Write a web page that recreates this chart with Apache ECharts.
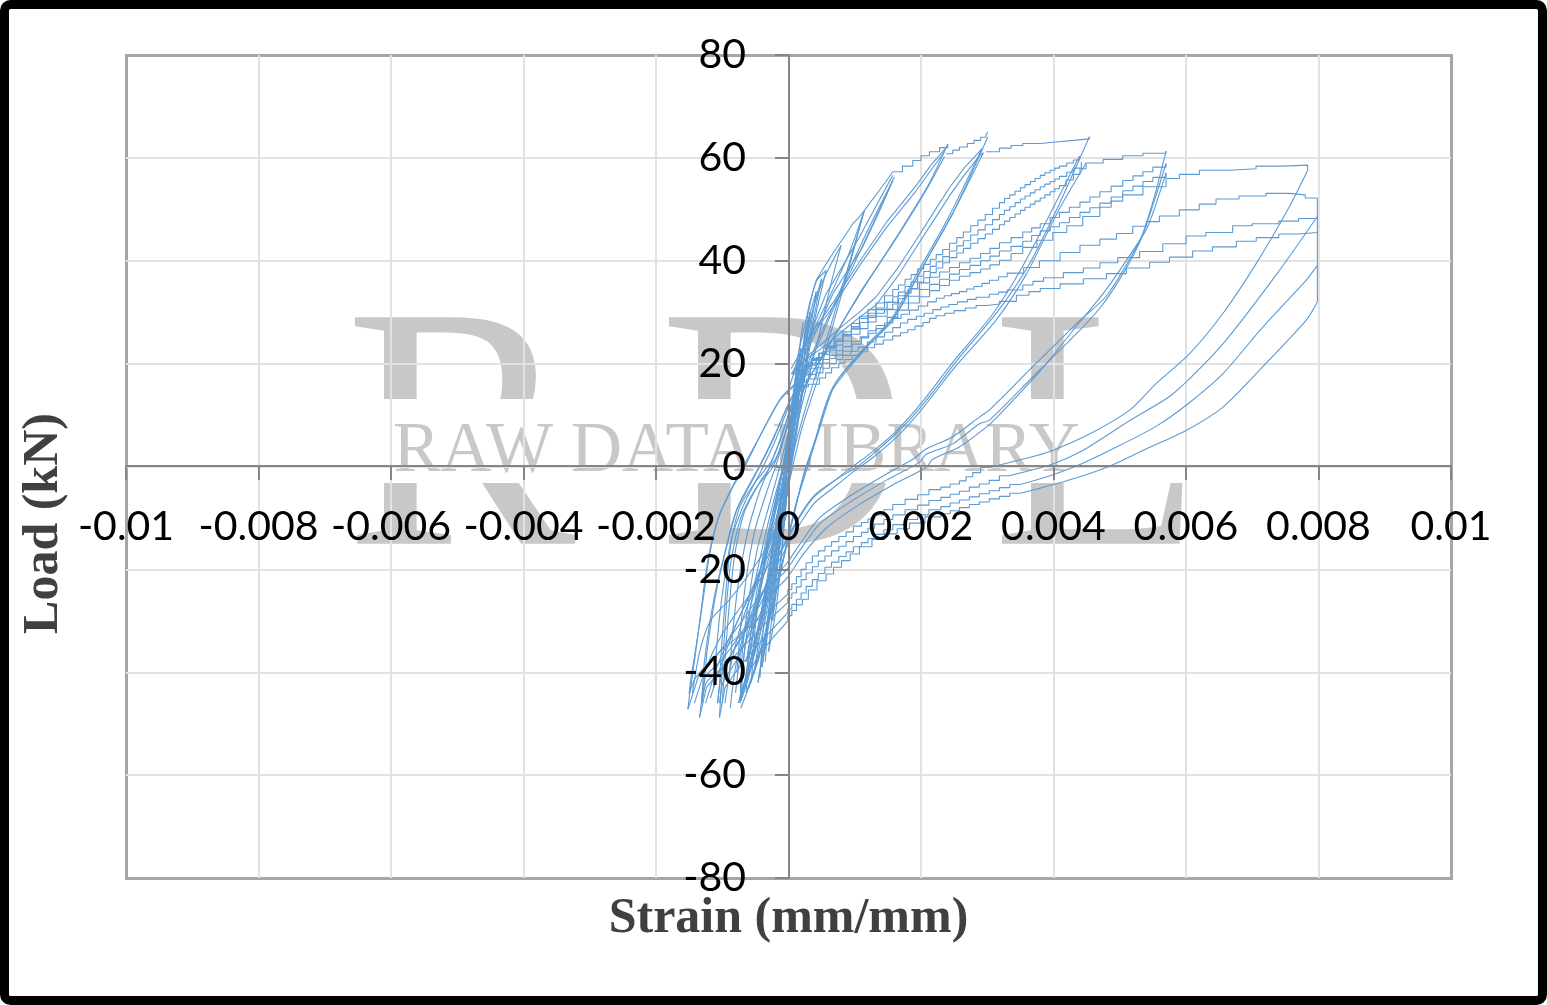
<!DOCTYPE html>
<html><head><meta charset="utf-8">
<style>html,body{margin:0;padding:0;background:#fff}#c{width:1547px;height:1005px}</style>
<script src="https://cdn.jsdelivr.net/npm/echarts@6/dist/echarts.min.js"></script>
</head><body><div id="c"></div>
<script>
// all pairs: [microstrain, load kN]
// stepped reloading branches reaching 0.008
const b8d=[[65,14.8],[170,15.5],[300,16],[467,17.2],[560,18.2],[650,19.2],[760,20.1],[850,20.8],[960,21.6],[1071,22.3],[1190,23.1],[1300,23.8],[1430,24.6],[1574,25.4],[1690,26],[1800,26.6],[1910,27.3],[2030,28],[2130,28.8],[2228,29.3],[2360,29.8],[2500,30.3],[2670,30.8],[2832,31.3],[3000,31.6],[3184,32.1],[3440,33.3],[3630,34],[3800,34.6],[4100,35.5],[4450,36.5],[4800,37.5],[5100,38.6],[5450,39.7],[5750,40.7],[6100,41.9],[6400,42.7],[6760,43.8],[7060,44.5],[7400,45.2],[7700,45.5],[7983,45.7]];
const b8c=[[120,15.8],[270,17],[417,18.2],[520,19.1],[620,20],[720,20.8],[820,21.6],[940,22.4],[1050,23.2],[1190,24.2],[1323,25.2],[1450,26.1],[1574,27],[1690,27.9],[1800,28.6],[1930,29.2],[2050,29.8],[2180,30.5],[2300,31],[2420,31.5],[2550,32],[2700,32.5],[2832,32.9],[3033,33.5],[3170,33.9],[3300,34.3],[3536,35.3],[3690,36],[3850,36.7],[4150,37.7],[4450,38.6],[4700,39.6],[4970,40.6],[5300,41.8],[5650,43.3],[6001,44.8],[6300,45.5],[6705,46.8],[7000,47.2],[7400,47.7],[7700,48.2],[7983,48.6]];
const b8b=[[180,16.5],[300,17.9],[417,19.2],[520,20.1],[620,21],[720,21.7],[820,22.4],[960,23.8],[1100,25],[1210,25.9],[1323,26.8],[1450,27.9],[1574,28.8],[1700,29.6],[1826,30.4],[1960,31.2],[2100,32],[2230,32.7],[2350,33.2],[2460,33.6],[2580,34],[2690,34.5],[2800,35],[2920,35.6],[3033,36.2],[3170,36.9],[3300,37.6],[3550,38.7],[3788,40],[4100,41.6],[4400,43],[4700,44.2],[4950,45.3],[5196,46.7],[5400,47.6],[5598,48.7],[5900,49.9],[6200,51],[6453,52],[6800,52.6],[7208,53.1],[7560,52.8],[7800,52.2],[7983,52.2]];
const b8a=[[240,18],[330,19.1],[417,20],[520,20.8],[620,21.6],[720,22.5],[820,23.3],[950,24.3],[1080,25.2],[1200,26.4],[1323,27.4],[1490,29],[1650,30.4],[1810,31.8],[1976,33],[2130,34.2],[2280,35.2],[2430,36.2],[2580,37],[2740,37.7],[2900,38.4],[3040,39.2],[3184,40.1],[3360,41.4],[3536,42.6],[3750,44],[3989,45.5],[4200,46.8],[4441,48.6],[4700,50.4],[4870,51.6],[5045,52.8],[5350,54.4],[5699,56],[5900,56.8],[6202,57.6],[6655,57.9],[7057,58.4],[7460,58.6],[7837,57.6]];
// stepped reloading branches reaching 0.0058
const b58b=[[200,18.4],[310,19.7],[417,20.8],[520,21.8],[620,22.6],[720,23.6],[820,24.4],[950,25.7],[1080,26.8],[1200,28.1],[1323,29.2],[1490,30.5],[1650,31.8],[1810,33.1],[1976,34.4],[2130,35.4],[2280,36.4],[2430,37.4],[2580,38.3],[2740,39.1],[2900,40],[3040,40.9],[3184,41.9],[3360,42.8],[3536,43.8],[3670,44.9],[3800,45.8],[3950,46.6],[4089,47.4],[4240,48.4],[4400,49.4],[4550,50.3],[4700,51.2],[4870,52.4],[5045,53.6],[5200,54.5],[5350,55.4],[5500,56.2],[5699,57.1]];
const b58a=[[160,18.8],[290,20.1],[417,21.2],[520,22.3],[620,23.2],[720,24.4],[820,25.4],[950,26.7],[1080,28],[1200,29.3],[1323,30.5],[1490,31.9],[1650,33.2],[1810,34.5],[1976,35.7],[2130,36.8],[2280,37.8],[2430,38.7],[2580,39.6],[2740,40.5],[2900,41.4],[3040,42.4],[3184,43.5],[3360,44.5],[3536,45.6],[3670,46.4],[3800,47.2],[3950,48.4],[4089,49.4],[4240,50.4],[4400,51.4],[4550,52.4],[4700,53.4],[4870,54.5],[5045,55.6],[5200,56.5],[5350,57.3],[5500,58.2],[5699,58.9]];
const b58t=[[120,18.4],[240,19.7],[350,21],[460,22],[568,23],[700,24.4],[820,25.6],[950,26.9],[1071,28],[1200,29],[1320,29.8],[1450,30.6],[1574,31.6],[1660,32.6],[1760,33.7],[1850,34.6],[1950,35.8],[2040,36.7],[2140,37.7],[2230,38.6],[2328,39.6],[2430,40.6],[2540,41.5],[2640,42.4],[2750,43.4],[2860,44.3],[2970,45.2],[3080,46.1],[3184,47],[3260,47.7],[3340,48.4],[3420,49.1],[3500,49.8],[3570,50.4],[3650,51],[3720,51.6],[3800,52.2],[3870,52.8],[3950,53.4],[4020,54],[4089,54.6],[4190,55.7],[4300,56.8],[4400,57.9],[4492,59],[4750,59.7],[5045,60.4],[5350,60.9],[5699,61.3]];
// stepped reloading branches reaching 0.0045
const b45a=[[60,18],[210,19.4],[350,20.6],[460,22],[568,23.4],[690,24.8],[820,26.2],[950,27.8],[1071,29.2],[1200,30.5],[1320,31.8],[1450,33.2],[1574,34.4],[1660,35.3],[1760,36.4],[1850,37.3],[1950,38.4],[2040,39.3],[2140,40.3],[2230,41.2],[2328,42.2],[2430,43.4],[2540,44.5],[2640,45.6],[2750,46.8],[2860,47.9],[2970,49],[3080,50.2],[3184,51.3],[3260,52.1],[3340,52.8],[3420,53.5],[3500,54.2],[3570,54.8],[3650,55.4],[3720,56],[3800,56.6],[3870,57.1],[3950,57.6],[4020,58],[4089,58.4],[4200,59],[4300,59.6],[4391,60.3]];
const b45b=[[90,18.2],[220,19.5],[350,20.8],[460,22],[568,23.2],[690,24.4],[820,25.6],[950,27.2],[1071,28.8],[1200,29.8],[1320,30.8],[1450,31.9],[1574,33],[1660,33.9],[1760,35],[1850,35.9],[1950,37],[2040,37.9],[2140,38.9],[2230,39.8],[2328,40.8],[2430,41.9],[2540,42.9],[2640,43.9],[2750,45],[2860,46],[2970,47],[3080,48],[3184,49],[3260,49.8],[3340,50.5],[3420,51.3],[3500,52],[3570,52.6],[3650,53.2],[3720,53.8],[3800,54.4],[3870,54.9],[3950,55.4],[4020,55.9],[4089,56.4],[4200,57.2],[4300,58],[4420,59.2]];
const b45t=[[2983,61.2],[3184,61.9],[3360,62.4],[3536,62.8],[3800,63.1],[4039,63.4],[4300,63.7],[4542,64.1]];
const b30t=[[2379,60.8],[2480,61.5],[2580,62.1],[2700,62.8],[2800,63.4],[2900,64],[2983,64.5],[3007,65]];
const b24t=[[1574,57.3],[1720,58.4],[1876,59.5],[2000,60.4],[2127,61.2],[2280,62],[2404,62.7]];
// steep reloading branches
const b30a=[[40,18],[300,21.6],[568,24.6],[820,27.4],[1071,30],[1323,33],[1650,38.6],[1976,45],[2200,49.6],[2429,54.2],[2650,58],[2882,61.2],[2920,61.8]];
const b30b=[[60,18],[300,21.2],[568,23.6],[820,26.4],[1071,29],[1323,31.4],[1650,37],[1976,43.6],[2200,48],[2429,52.6],[2650,56.6],[2882,60.4],[2940,61]];
const b24a=[[50,18],[300,24.5],[669,31],[1071,39],[1473,46.4],[1700,50],[1926,53.6],[2150,57.6],[2354,61.2]];
const b24b=[[40,19],[300,25],[669,31.8],[1071,39.8],[1473,47.4],[1700,51],[1926,54.6],[2150,58.6],[2380,62]];
const b16t=[[-20,14],[100,19],[216,25.8],[317,31.6],[417,36.2],[568,39.4],[669,41.4],[769,43.3],[870,45.2],[970,47.2],[1060,48.4],[1147,49.8],[1260,51.8],[1373,53.7],[1470,55.4],[1574,57.3]];
const b16a=[[216,21.9],[390,27.8],[568,33.6],[820,39],[1071,44.6],[1320,50.6],[1574,56.6]];
const b16b=[[266,21.9],[470,27.8],[669,33.6],[900,38.2],[1121,42.7],[1350,49],[1574,55.6]];
// small cycles of the elastic range
const s1=[[-640,-38],[-420,-22],[-220,-10],[-80,0],[40,9],[180,20],[300,30],[420,36],[568,38.1]];
const s2=[[568,38.1],[420,30],[280,20],[140,8],[20,-2],[-140,-14],[-360,-28],[-640,-38]];
const s3=[[-520,-40],[-330,-24],[-160,-10],[-30,0],[80,9],[210,19],[340,29],[500,36.5]];
const s4=[[500,36.5],[370,28],[240,18],[110,7],[-20,-4],[-170,-15],[-340,-29],[-520,-40]];
const s5=[[-460,-42],[-300,-28],[-130,-12],[-50,-3],[60,7],[160,18],[290,28],[420,34]];
const s6=[[420,34],[300,24],[190,14],[80,4],[-40,-7],[-190,-19],[-330,-32],[-460,-42]];
const s7=[[-400,-39],[-260,-26],[-120,-14],[-20,-4],[70,6],[150,15],[240,24],[330,30]];
const s8=[[330,30],[220,20],[120,10],[40,2],[-60,-9],[-190,-21],[-300,-31],[-400,-39]];
const s9=[[794,43],[640,35.5],[470,26],[300,17],[130,8],[-10,-3],[-180,-16],[-400,-31],[-700,-45]];
const s10=[[-700,-45],[-500,-29],[-300,-14],[-150,-5],[-20,5],[120,16],[300,27],[500,35.5],[794,43]];
const s11=[[1147,49.8],[950,41],[720,31],[480,20.6],[250,11],[60,2],[-120,-10],[-330,-25],[-640,-41]];
const s12=[[-640,-41],[-420,-24],[-240,-11],[-70,1],[90,12],[300,24],[620,33],[900,41],[1147,49.8]];
const s13=[[1120,48.8],[900,38],[690,28.4],[440,17],[200,7.4],[30,-2],[-150,-13],[-360,-27],[-600,-39]];
const s14=[[-300,-36],[-220,-25],[-120,-13],[-40,-3],[30,6],[110,16],[190,23]];
const s15=[[190,23],[100,13],[30,3],[-30,-6],[-110,-18],[-190,-28],[-300,-36]];
const s16=[[-240,-30],[-160,-19],[-80,-9],[-20,-1],[30,8],[80,15],[140,20]];
const s17=[[140,20],[70,10],[10,0],[-50,-9],[-110,-17],[-180,-24],[-240,-30]];
// dense bundle below zero
const d1=[[-1180,-45],[-1000,-38],[-800,-31],[-560,-24],[-300,-16],[-100,-8],[0,-2]];
const d2=[[-1250,-46],[-1080,-39],[-880,-33],[-620,-26],[-360,-19],[-140,-11],[0,-4]];
const d3=[[-1420,-46],[-1240,-39],[-1020,-33],[-760,-28],[-480,-23],[-220,-17],[-20,-9]];
const d4=[[-1450,-44],[-1340,-36],[-1180,-30],[-900,-26],[-600,-21],[-300,-15],[-60,-7]];
const d5=[[-960,-46],[-860,-38],[-700,-30],[-500,-23],[-280,-14],[-100,-6],[20,2]];
const d6=[[-880,-47],[-800,-39],[-660,-32],[-460,-25],[-240,-15],[-80,-5],[40,4]];
const d7=[[-800,-44],[-720,-36],[-590,-28],[-400,-19],[-200,-9],[-60,-1],[60,8]];
const e1=[[-900,-42],[-840,-32],[-760,-23],[-620,-13],[-440,-5],[-250,1],[-100,6],[60,13]];
const e2=[[-1130,-43],[-1070,-33],[-990,-24],[-860,-14],[-660,-7],[-420,-1],[-200,5],[10,12]];
const e3=[[-780,-40],[-720,-31],[-630,-21],[-500,-12],[-330,-5],[-170,1],[-40,7],[100,15]];
const e4=[[-560,-42],[-500,-31],[-400,-21],[-290,-12],[-170,-5],[-70,1],[40,9],[160,18]];
const e5=[[-430,-41],[-370,-30],[-280,-20],[-190,-11],[-100,-4],[-20,3],[60,11],[170,22]];
const e6=[[-350,-38],[-290,-27],[-220,-18],[-140,-9],[-60,-1],[20,7],[100,17],[220,28]];
// unloading after the tension peaks, into the compression peaks
const u16a=[[1600,56.3],[1172,45.3],[669,31],[216,17.4],[40,8],[-100,-4],[-280,-20],[-480,-34],[-620,-42]];
const u16b=[[1574,55.6],[1140,43.5],[640,29.5],[200,15.8],[30,6],[-110,-6],[-300,-22],[-500,-35],[-680,-44]];
const u24a=[[2354,60.2],[2077,53.7],[1574,43.3],[1071,33.6],[568,22.6],[216,14.8],[40,6],[-100,-4],[-300,-20],[-500,-34],[-700,-44]];
const u24b=[[2404,62.7],[2110,54.7],[1610,44.2],[1110,34.2],[610,23.6],[240,15.2],[60,6],[-90,-6],[-330,-23],[-560,-37],[-760,-46]];
const u30a=[[3007,64],[2480,49.2],[2077,40],[1574,28.4],[1172,23.2],[669,15.4],[417,5.7],[266,-0.2],[100,-8],[-40,-16],[-250,-28],[-480,-38],[-640,-44]];
const u30b=[[2920,61.8],[2430,48.8],[2030,39.6],[1530,28.2],[1130,22.4],[630,14.2],[390,4.6],[240,-1],[90,-9],[-60,-17],[-280,-29],[-520,-40],[-720,-47]];
const u30c=[[2940,61],[2510,50],[2100,40.5],[1610,29.4],[1210,24],[710,16.2],[450,6.6],[300,0.4],[120,-7],[-30,-15],[-220,-26],[-440,-37],[-600,-43]];
const u45t=[[4542,64.1],[4089,51.1],[3637,39.4],[3184,30.6],[2580,21.2],[2077,12.8],[1675,7],[1272,2.4],[1021,-0.2],[769,-2.1],[417,-5.3],[216,-8.6],[15,-13.1],[-186,-18.3],[-438,-26.1],[-640,-33.9],[-715,-42],[-730,-46]];
const u45a=[[4391,60.3],[4000,50.4],[3520,38.6],[3080,29.6],[2500,20.6],[2010,12.4],[1620,6.8],[1220,2.4],[970,0],[720,-2.5],[380,-6],[180,-9.6],[-20,-14.3],[-220,-19.4],[-500,-28],[-800,-35],[-1000,-40],[-1070,-46]];
const u45b=[[4492,59],[4060,49.4],[3590,37.4],[3130,28.4],[2530,19.6],[2030,11.4],[1640,5.8],[1240,1.4],[1000,-0.8],[750,-3.4],[400,-7],[200,-10.6],[-10,-15.3],[-250,-20.8],[-600,-30],[-1000,-37.5],[-1260,-41],[-1310,-46]];
const u58t=[[5699,61.3],[5530,52.8],[5340,45],[5090,39],[4790,33],[4400,28.4],[3687,19.4],[3033,11],[2882,9.6],[2479,5.8],[2077,3.4],[1876,1.4],[1473,-1.5],[920,-5.8],[467,-10],[166,-15.2],[-36,-19],[-287,-22.5],[-700,-30],[-1100,-37],[-1400,-41],[-1500,-44.2]];
const u58a=[[5699,58.9],[5500,50.8],[5300,43.6],[5045,37.4],[4743,31.5],[4391,26.4],[3687,17.4],[3033,9],[2882,8.3],[2479,4.4],[2077,2.4],[1976,0.8],[1473,-2.7],[920,-7],[467,-11.2],[166,-16.4],[-36,-20.2],[-287,-23.5],[-600,-31],[-1000,-39],[-1240,-42],[-1300,-46]];
const u58b=[[5699,57.1],[5520,50],[5397,46],[5045,39],[4743,33.5],[4391,28],[3787,18.4],[3133,9.4],[2982,7.6],[2579,3.8],[2177,1.4],[2076,-0.2],[1573,-3.6],[1020,-7.8],[567,-12],[226,-17],[-6,-21.4],[-260,-25],[-539,-31.3],[-800,-38],[-990,-42],[-1040,-46]];
const u8a=[[7837,57.6],[7560,50.5],[7057,39.4],[6554,29.7],[6051,21.9],[5548,16.1],[5145,10.9],[4542,6.3],[3989,3.1],[3737,2.1],[3033,-0.2]];
const u8b=[[7983,48.6],[7409,38.1],[6554,23.8],[5800,14.1],[5145,8.9],[4441,3.1],[3989,0.5],[3335,-1.8]];
const u8c=[[7983,39.1],[7812,36.2],[7158,27.1],[6554,18],[6050,12.4],[5548,7.8],[4844,3.1],[4400,0.4],[3900,-2],[3500,-3.5]];
const u8d=[[7983,32],[7812,28.4],[7107,18.7],[6554,11.5],[6001,7],[5397,3.4],[4794,-0.2],[4300,-2.4],[3800,-4.2],[3500,-5.2]];
const drop8=[[7983,52.2],[7983,32]];
// stepped compression branches after the 0.008 peaks
const l8a=[[3033,-0.2],[2900,-1.2],[2780,-2],[2680,-2.8],[2580,-3.4],[2440,-4],[2300,-4.5],[2120,-5.5],[1950,-6.4],[1760,-7.4],[1574,-8.4],[1440,-9.4],[1300,-10.2],[1200,-10.9],[1100,-11.6],[980,-12.7],[870,-13.6],[760,-14.6],[650,-15.5],[550,-16.4],[450,-17.4],[360,-18.7],[266,-20],[190,-21.4],[120,-22.8],[50,-23.9],[-10,-24.8]];
const l8b=[[3335,-1.8],[3184,-2.7],[3030,-3.4],[2880,-4],[2730,-4.8],[2580,-5.4],[2440,-6],[2300,-6.6],[2120,-7.5],[1950,-8.4],[1760,-9.4],[1574,-10.3],[1440,-11.2],[1300,-12],[1200,-12.8],[1100,-13.6],[980,-14.6],[870,-15.5],[760,-16.4],[650,-17.4],[550,-18.4],[450,-19.5],[360,-20.7],[266,-22],[190,-23.4],[120,-24.6],[50,-25.6],[-10,-26.4]];
const l8c=[[3500,-3.5],[3340,-4.1],[3184,-4.7],[3030,-5.3],[2880,-5.9],[2730,-6.5],[2580,-7.1],[2440,-7.8],[2300,-8.4],[2120,-9.4],[1950,-10.3],[1760,-11.3],[1574,-12.3],[1440,-13.2],[1300,-14],[1200,-14.8],[1100,-15.6],[980,-16.6],[870,-17.5],[760,-18.6],[650,-19.6],[550,-20.8],[450,-22],[360,-23.3],[266,-24.6],[190,-25.8],[120,-26.8],[50,-27.7],[-10,-28.4]];
const l8d=[[3500,-5.2],[3340,-5.8],[3184,-6.3],[3030,-6.9],[2880,-7.4],[2730,-8],[2580,-8.6],[2440,-9.2],[2300,-9.8],[2060,-11],[1826,-12.1],[1640,-13.1],[1450,-14.2],[1260,-15.6],[1071,-17],[930,-18.3],[800,-19.6],[680,-20.9],[568,-22.2],[430,-24],[300,-25.8],[210,-26.9],[120,-28],[50,-29],[-10,-30]];
const t8a=[[-10,-24.8],[-230,-27.4],[-480,-30],[-840,-33.9],[-1130,-37],[-1340,-40],[-1519,-47.2]];
const t8b=[[-10,-26.4],[-340,-30.4],[-740,-35.8],[-1050,-40],[-1240,-43],[-1343,-48.8]];
const t8c=[[-10,-28.4],[-270,-32],[-539,-35.8],[-800,-40],[-960,-43],[-1042,-48.8]];
const t8d=[[-10,-30],[-230,-33.2],[-438,-36.5],[-600,-40],[-690,-43],[-715,-45.6]];
// unloading from the compression peaks back up through zero
const c1=[[-1519,-47.2],[-1490,-44],[-1419,-37.8],[-1320,-28],[-1218,-18.3],[-1060,-10],[-840,-4],[-664,-0.1],[-438,5.7],[-136,12.8],[115,16],[300,18]];
const c1b=[[-1500,-44.2],[-1470,-41],[-1395,-35],[-1290,-26],[-1190,-17],[-1030,-9],[-810,-3],[-640,1],[-410,6.4],[-110,13.4],[130,16.4]];
const c2=[[-1343,-48.8],[-1300,-44],[-1268,-37.8],[-1130,-26],[-991,-18.3],[-800,-9],[-600,-4],[-438,-0.1],[-240,5],[-40,11],[200,17]];
const c2b=[[-1310,-46],[-1270,-42],[-1230,-36],[-1100,-25],[-960,-17],[-770,-8],[-570,-3],[-400,1],[-200,6.4],[0,12.2],[230,18]];
const c3=[[-1042,-48.8],[-1020,-44],[-991,-37.8],[-930,-26],[-866,-18.3],[-720,-10],[-480,-4],[-237,-0.1],[-60,6],[100,12],[260,18]];
const c3b=[[-1070,-46],[-1040,-42],[-1015,-36],[-950,-25],[-880,-16],[-740,-8],[-500,-3],[-260,1],[-80,7],[80,13],[240,19]];
const c3c=[[-1000,-46],[-975,-41],[-945,-35],[-880,-25],[-810,-17],[-670,-9],[-430,-3],[-190,1.6],[-20,7.6],[130,14]];
const c4=[[-715,-45.6],[-700,-42],[-680,-37.8],[-570,-27],[-438,-18.3],[-250,-8],[-86,-0.1],[60,8],[170,15],[300,20]];
const c4b=[[-730,-46],[-715,-41],[-690,-35],[-590,-25],[-470,-16],[-280,-7],[-110,1],[30,8.6],[150,15.6],[280,21]];
const c4c=[[-640,-44],[-620,-40],[-595,-35],[-500,-26],[-380,-17],[-200,-7],[-50,1],[90,10],[210,17]];

const xTicks=[-0.01,0.01,0.002];
const yTicks=[-80,80,20];
const xTitle='Strain (mm/mm)';
const yTitle='Load (kN)';
const stepped=[b8d,b8c,b8b,b8a,b58b,b58a,b58t,b45a,b45b,b45t,b30t,b24t,l8a,l8b,l8c,l8d];
const straight=[b30a,b30b,b24a,b24b,b16t,b16a,b16b,drop8,t8a,t8b,t8c,t8d];
const plain=[u16a,u16b,u24a,u24b,u30a,u30b,u30c,u45t,u45a,u45b,u58t,u58a,u58b,u8a,u8b,u8c,u8d,c1,c1b,c2,c2b,c3,c3b,c3c,c4,c4b,c4c,s1,s2,s3,s4,s5,s6,s7,s8,s9,s10,s11,s12,s13,s14,s15,s16,s17,d1,d2,d3,d4,d5,d6,d7,e1,e2,e3,e4,e5,e6];

const toStrain=a=>a.map(([e,p])=>[e/1e6,p]);
const lineBase={type:'line',showSymbol:false,symbol:'none',silent:true,clip:false,lineStyle:{color:'#5b9bd5',width:1.1}};
const series=[
  ...stepped.map(a=>({...lineBase,step:'end',data:toStrain(a)})),
  ...straight.map(a=>({...lineBase,data:toStrain(a)})),
  ...plain.map(a=>({...lineBase,smooth:0.25,data:toStrain(a)}))
];
const wmFont='"Liberation Serif",serif';
const wm='#c8c8c8';
const gridLines={show:true,showMinLine:false,showMaxLine:false,lineStyle:{color:'#e2e2e2',width:2}};
const chart=echarts.init(document.getElementById('c'),null,{renderer:'canvas'});
chart.setOption({
  animation:false,
  backgroundColor:'#fff',
  grid:{left:126,right:96,top:55,bottom:127,show:false,containLabel:false,outerBoundsMode:'none'},
  xAxis:[
    {type:'value',position:'bottom',min:xTicks[0],max:xTicks[1],interval:xTicks[2],
     axisLine:{show:false,onZero:false},axisTick:{show:false},axisLabel:{show:false},splitLine:gridLines},
    {type:'value',position:'bottom',z:5,offset:-412,min:xTicks[0],max:xTicks[1],interval:xTicks[2],
     name:xTitle,nameLocation:'middle',nameGap:428,
     nameTextStyle:{fontFamily:wmFont,fontWeight:'bold',fontSize:50,color:'#404040'},
     axisLine:{onZero:false,lineStyle:{color:'#868686',width:2}},
     axisTick:{show:true,length:14,lineStyle:{color:'#868686',width:2}},
     axisLabel:{margin:40,fontFamily:'Lato',fontSize:41,color:'#000',showMinLabel:true,showMaxLabel:true,hideOverlap:false},
     splitLine:{show:false}}
  ],
  yAxis:[
    {type:'value',position:'left',min:yTicks[0],max:yTicks[1],interval:yTicks[2],
     axisLine:{show:false,onZero:false},axisTick:{show:false},axisLabel:{show:false},splitLine:gridLines},
    {type:'value',position:'left',z:5,offset:-663,min:yTicks[0],max:yTicks[1],interval:yTicks[2],
     name:yTitle,nameLocation:'middle',nameGap:720,nameRotate:90,
     nameTextStyle:{fontFamily:wmFont,fontWeight:'bold',fontSize:50,color:'#404040',padding:[0,114,0,0]},
     axisLine:{onZero:false,lineStyle:{color:'#868686',width:2}},
     axisTick:{show:true,length:14,lineStyle:{color:'#868686',width:2}},
     axisLabel:{margin:43,fontFamily:'Lato',fontSize:41,color:'#000',showMinLabel:true,showMaxLabel:true,hideOverlap:false},
     splitLine:{show:false}}
  ],
  graphic:{elements:[
    {type:'text',z:-2,silent:true,style:{text:'R',x:345,y:453,fill:wm,font:'346px '+wmFont,textVerticalAlign:'middle'}},
    {type:'text',z:-2,silent:true,style:{text:'D',x:659,y:453,fill:wm,font:'346px '+wmFont,textVerticalAlign:'middle'}},
    {type:'text',z:-2,silent:true,style:{text:'L',x:992,y:453,fill:wm,font:'346px '+wmFont,textVerticalAlign:'middle'}},
    {type:'rect',z:-1,silent:true,shape:{x:340,y:399,width:890,height:84},style:{fill:'#fff'}},
    {type:'text',z:-1,silent:true,style:{text:'RAW DATA LIBRARY',x:393,y:452,fill:wm,font:'71px '+wmFont,textVerticalAlign:'middle'}},
    {type:'rect',z:-1,silent:true,shape:{x:126.5,y:55.5,width:1325,height:823},style:{fill:'none',stroke:'#a6a6a6',lineWidth:3}},
    {type:'rect',z:100,silent:true,shape:{x:4.5,y:4.5,width:1538,height:996,r:6},style:{fill:'none',stroke:'#000',lineWidth:9}}
  ]},
  series
});
</script></body></html>
